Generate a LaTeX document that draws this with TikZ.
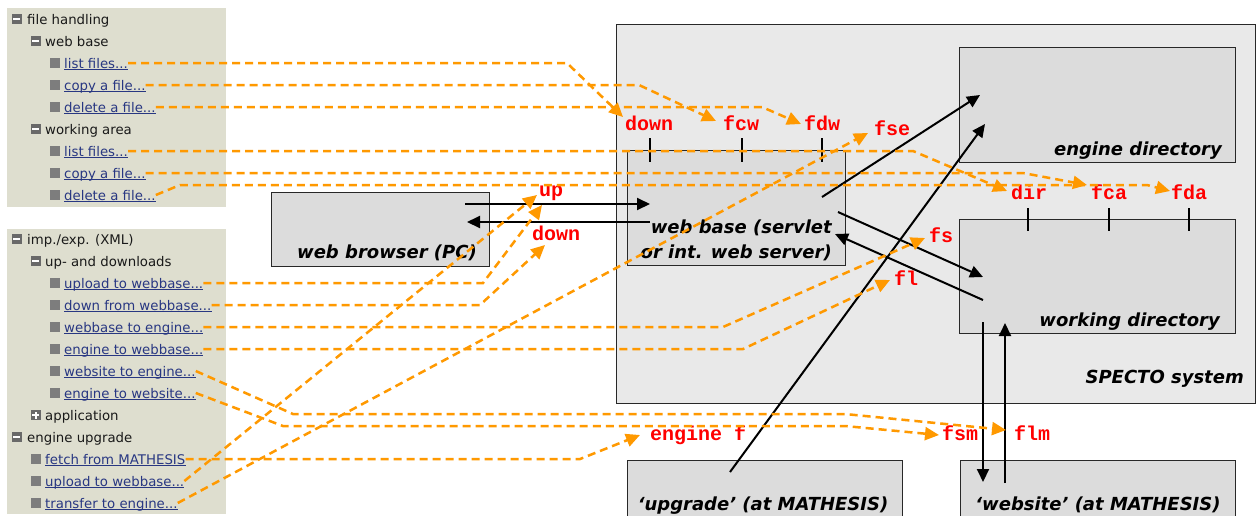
\documentclass[tikz,border=0pt]{standalone}
\usepackage{fontspec}
\setmainfont{DejaVu Sans}
\newfontfamily\menuf{DejaVu Sans}
\newfontfamily\boxf{DejaVu Sans}
\newfontfamily\codef{Liberation Mono}
\usetikzlibrary{arrows.meta,calc}
\definecolor{panel}{RGB}{222,222,207}
\definecolor{outerfill}{RGB}{233,233,233}
\definecolor{innerfill}{RGB}{220,220,220}
\definecolor{boxline}{RGB}{40,40,40}
\definecolor{linkblue}{RGB}{40,55,130}
\definecolor{menutext}{RGB}{25,25,25}
\definecolor{icongray}{RGB}{105,105,105}
\definecolor{leafgray}{RGB}{125,125,125}
\definecolor{dorange}{RGB}{255,153,0}
\definecolor{tagred}{RGB}{255,0,0}
\begin{document}
\begin{tikzpicture}[x=1pt,y=-1pt,
  mhead/.style={font=\menuf\fontsize{13.3}{15}\selectfont, text=menutext, anchor=west, inner sep=0pt, text height=12pt, text depth=2pt},
  mlink/.style={mhead, text=linkblue},
  leaf/.style={fill=leafgray, minimum size=10pt, inner sep=0pt, draw=none},
  minusicon/.style={fill=icongray, minimum size=10pt, inner sep=0pt, draw=none,
    path picture={\fill[white] ([xshift=-3.5pt,yshift=-1pt]path picture bounding box.center) rectangle ([xshift=3.5pt,yshift=1pt]path picture bounding box.center);}},
  plusicon/.style={fill=icongray, minimum size=10pt, inner sep=0pt, draw=none,
    path picture={\fill[white] ([xshift=-3.5pt,yshift=-1pt]path picture bounding box.center) rectangle ([xshift=3.5pt,yshift=1pt]path picture bounding box.center);
      \fill[white] ([xshift=-1pt,yshift=-3.5pt]path picture bounding box.center) rectangle ([xshift=1pt,yshift=3.5pt]path picture bounding box.center);}},
  tag/.style={font=\codef\bfseries\fontsize{20}{22}\selectfont, text=tagred, anchor=base, inner sep=0pt},
  outerbox/.style={draw=boxline, line width=1.3pt, fill=outerfill, anchor=north west, inner sep=0pt},
  box/.style={draw=boxline, line width=1.3pt, fill=innerfill, anchor=north west, inner sep=0pt},
  blabel/.style={font=\boxf\bfseries\itshape\fontsize{18}{20}\selectfont, text=black, anchor=base east, inner sep=0pt},
  odash/.style={draw=dorange, line width=2.5pt, dash pattern=on 8pt off 5pt, -{Triangle[length=14pt,width=13pt]}},
  blk/.style={draw=black, line width=2pt, -{Triangle[length=13pt,width=12pt]}},
  tickmark/.style={draw=black, line width=1.5pt}
]
\useasboundingbox (0,0) rectangle (1258,515);
\fill[white] (0,0) rectangle (1258,515);
\begin{scope}
\clip (0,0) rectangle (1258,515);

% menu panels
\fill[panel] (7,8) rectangle (226,207);
\fill[panel] (7,229) rectangle (226,514);

% top menu
\node[minusicon] (ic1) at (16.5,19) {};
\node[mhead] (h1) at (27,19) {file handling};
\node[minusicon] (ic2) at (35.5,41) {};
\node[mhead] (h2) at (45,41) {web base};
\node[leaf] (ic3) at (54.5,63) {};
\node[mlink] (mwl) at (64,63) {list files...};
\node[leaf] (ic4) at (54.5,85) {};
\node[mlink] (mwc) at (64,85) {copy a file...};
\node[leaf] (ic5) at (54.5,107) {};
\node[mlink] (mwd) at (64,107) {delete a file...};
\node[minusicon] (ic6) at (35.5,129) {};
\node[mhead] (h3) at (45,129) {working area};
\node[leaf] (ic7) at (54.5,151) {};
\node[mlink] (mal) at (64,151) {list files...};
\node[leaf] (ic8) at (54.5,173) {};
\node[mlink] (mac) at (64,173) {copy a file...};
\node[leaf] (ic9) at (54.5,195) {};
\node[mlink] (mad) at (64,195) {delete a file...};

% bottom menu
\node[minusicon] (ic10) at (16.5,239) {};
\node[mhead] (h4) at (27,239) {imp./exp. (XML)};
\node[minusicon] (ic11) at (35.5,261) {};
\node[mhead] (h5) at (45,261) {up- and downloads};
\node[leaf] (ic12) at (54.5,283) {};
\node[mlink] (mu1) at (64,283) {upload to webbase...};
\node[leaf] (ic13) at (54.5,305) {};
\node[mlink] (mu2) at (64,305) {down from webbase...};
\node[leaf] (ic14) at (54.5,327) {};
\node[mlink] (mu3) at (64,327) {webbase to engine...};
\node[leaf] (ic15) at (54.5,349) {};
\node[mlink] (mu4) at (64,349) {engine to webbase...};
\node[leaf] (ic16) at (54.5,371) {};
\node[mlink] (mu5) at (64,371) {website to engine...};
\node[leaf] (ic17) at (54.5,393) {};
\node[mlink] (mu6) at (64,393) {engine to website...};
\node[plusicon] (ic18) at (35.5,415) {};
\node[mhead] (h6) at (45,415) {application};
\node[minusicon] (ic19) at (16.5,437) {};
\node[mhead] (h7) at (27,437) {engine upgrade};
\node[leaf] (ic20) at (35.5,459) {};
\node[mlink] (me1) at (45,459) {fetch from MATHESIS};
\node[leaf] (ic21) at (35.5,481) {};
\node[mlink] (me2) at (45,481) {upload to webbase...};
\node[leaf] (ic22) at (35.5,503) {};
\node[mlink] (me3) at (45,503) {transfer to engine...};

\foreach \n in {mwl,mwc,mwd,mal,mac,mad,mu1,mu2,mu3,mu4,mu5,mu6,me1,me2,me3}
  \draw[linkblue, line width=0.9pt] ([yshift=-1.8pt]\n.base west) -- ([yshift=-1.8pt]\n.base east);

% boxes
\node[outerbox, minimum width=639pt, minimum height=379pt] (specto) at (616,24) {};
\node[box, minimum width=276pt, minimum height=115pt] (engdir) at (959,47) {};
\node[box, minimum width=276pt, minimum height=114pt] (workdir) at (959,219) {};
\node[box, minimum width=218pt, minimum height=115pt] (webbase) at (627,150) {};
\node[box, minimum width=218pt, minimum height=74pt] (browser) at (271,192) {};
\node[box, minimum width=275pt, minimum height=80pt] (upgrade) at (627,460) {};
\node[box, minimum width=275pt, minimum height=80pt] (website) at (960,460) {};

\node[blabel] (lbrowser) at (477,258) {web browser (PC)};
\node[blabel] (lwb1) at (832,233) {web base (servlet};
\node[blabel] (lwb2) at (832,258) {or int. web server)};
\node[blabel] (lengdir) at (1222,155) {engine directory};
\node[blabel] (lworkdir) at (1220,326) {working directory};
\node[blabel] (lspecto) at (1244,383) {SPECTO system};
\node[blabel, anchor=base] (lupgrade) at (763,510) {‘upgrade’ (at MATHESIS)};
\node[blabel, anchor=base] (lwebsite) at (1098,510) {‘website’ (at MATHESIS)};

% ticks
\foreach \x in {650,742,822} \draw[tickmark] (\x,138) -- (\x,162);
\foreach \x in {1028,1109,1189} \draw[tickmark] (\x,208) -- (\x,231);

% red tags
\node[tag] (g-down) at (649,130) {down};
\node[tag] (g-fcw) at (741,130) {fcw};
\node[tag] (g-fdw) at (822,130) {fdw};
\node[tag] (g-fse) at (892,135) {fse};
\node[tag] (g-up) at (551,196) {up};
\node[tag] (g-down2) at (556,240) {down};
\node[tag] (g-fs) at (941,242) {fs};
\node[tag] (g-fl) at (906,285) {fl};
\node[tag] (g-dir) at (1029,199) {dir};
\node[tag] (g-fca) at (1109,199) {fca};
\node[tag] (g-fda) at (1189,199) {fda};
\node[tag] (g-engf) at (698,440) {engine f};
\node[tag] (g-fsm) at (960,440) {fsm};
\node[tag] (g-flm) at (1032,440) {flm};

% arrow tip coordinates
\coordinate (t-down) at (623,117);
\coordinate (t-fcw) at (716,121);
\coordinate (t-fdw) at (801,124);
\coordinate (t-fse) at (868,133);
\coordinate (t-up1) at (542,205);
\coordinate (t-up2) at (537,195);
\coordinate (t-down2) at (545,245);
\coordinate (t-fs) at (925,238);
\coordinate (t-fl) at (890,280);
\coordinate (t-dir) at (1007,191);
\coordinate (t-fca) at (1087,185);
\coordinate (t-fda) at (1170,191);
\coordinate (t-engf) at (640,435);
\coordinate (t-fsm) at (939,435);
\coordinate (t-flm) at (1006,430);

% black connectors
\coordinate (b1s) at (465,204); \coordinate (b1e) at (650,204);
\coordinate (b2s) at (650,222); \coordinate (b2e) at (467,222);
\coordinate (b3s) at (822,197); \coordinate (b3e) at (980,95);
\coordinate (b4s) at (838,212); \coordinate (b4e) at (983,277);
\coordinate (b5s) at (983,300); \coordinate (b5e) at (835,234);
\coordinate (b6s) at (730,472); \coordinate (b6e) at (985,124);
\coordinate (b7s) at (983,322); \coordinate (b7e) at (983,482);
\coordinate (b8s) at (1005,483); \coordinate (b8e) at (1005,323);
\draw[blk] (b1s) -- (b1e);
\draw[blk] (b2s) -- (b2e);
\draw[blk] (b3s) -- (b3e);
\draw[blk] (b4s) -- (b4e);
\draw[blk] (b5s) -- (b5e);
\draw[blk] (b6s) -- (b6e);
\draw[blk] (b7s) -- (b7e);
\draw[blk] (b8s) -- (b8e);

% orange dashed connectors
\draw[odash] (mwl.east) -- (567,63) -- (t-down);
\draw[odash] (mwc.east) -- (639,85) -- (t-fcw);
\draw[odash] (mwd.east) -- (762,107) -- (t-fdw);
\draw[odash] (mal.east) -- (913,151) -- (t-dir);
\draw[odash] (mac.east) -- (1023,173) -- (t-fca);
\draw[odash] (mad.east) -- (180,185) -- (1147,185) -- (t-fda);
\draw[odash] (mu1.east) -- (483,283) -- (t-up1);
\draw[odash] (mu2.east) -- (480,305) -- (t-down2);
\draw[odash] (mu3.east) -- (723,327) -- (t-fs);
\draw[odash] (mu4.east) -- (743,349) -- (t-fl);
\draw[odash] (mu5.east) -- (293,414) -- (845,414) -- (t-flm);
\draw[odash] (mu6.east) -- (283,426) -- (845,426) -- (t-fsm);
\draw[odash] (me1.east) -- (580,459) -- (t-engf);
\draw[odash] (me2.east) -- (t-up2);
\draw[odash] (me3.east) -- (t-fse);
\end{scope}
\end{tikzpicture}
\end{document}
